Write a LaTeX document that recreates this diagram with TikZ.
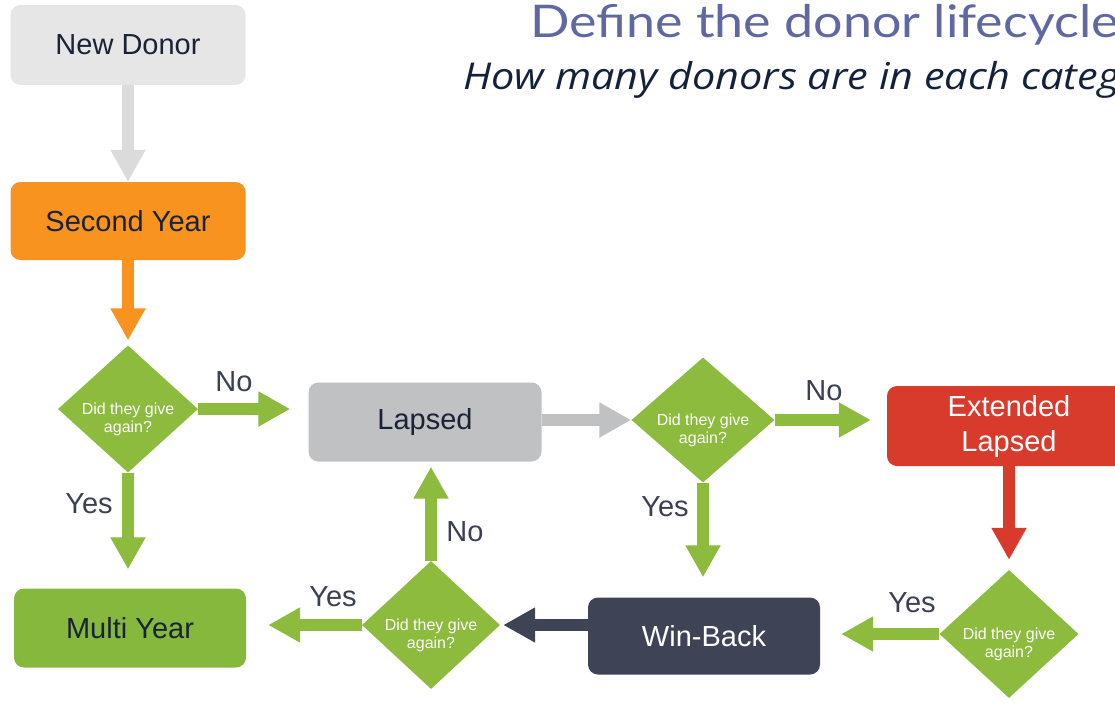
\documentclass[tikz,border=0pt]{standalone}
\usepackage{fontspec}
\usepackage{graphicx}
\setmainfont{Liberation Sans}
\newfontfamily\headfont{Lato}
\newfontfamily\subfont{Open Sans}
\usetikzlibrary{shapes.geometric,arrows.meta}

\definecolor{newgray}{HTML}{E6E6E6}
\definecolor{secorange}{HTML}{F7931E}
\definecolor{askgreen}{HTML}{8CBB3E}
\definecolor{multigreen}{HTML}{86B83E}
\definecolor{lapsegray}{HTML}{BFC1C3}
\definecolor{extred}{HTML}{D83B2B}
\definecolor{winnavy}{HTML}{3F4356}
\definecolor{boxtext}{HTML}{1A2336}
\definecolor{lbltext}{HTML}{3A3F52}
\definecolor{titleblue}{HTML}{6068A2}
\definecolor{subnavy}{HTML}{13223A}

\tikzset{
  stage/.style={rectangle, rounded corners=10pt, inner sep=0pt, align=center,
    minimum width=233pt, minimum height=79pt, text=boxtext,
    font=\fontsize{29}{35}\selectfont},
  ask/.style={diamond, fill=askgreen, inner sep=0pt,
    minimum width=140pt, minimum height=127pt},
  asktext/.style={text=white, align=center, inner sep=0pt, yshift=-10pt,
    font=\fontsize{16}{18}\selectfont},
  flow/.style={line width=12pt, -{Triangle[width=33pt,length=32pt]}},
  lbl/.style={text=lbltext, inner sep=0pt, font=\fontsize{29}{30}\selectfont},
}

\begin{document}
\begin{tikzpicture}[x=1pt, y=-1pt]
  \useasboundingbox (0,0) rectangle (1115,702);
  \clip (0,0) rectangle (1115,702);

  % heading
  \node[anchor=base west, inner sep=0pt, text=titleblue,
    font=\headfont\fontsize{45}{50}\selectfont] (title) at (530,37)
    {\scalebox{1.155}[1]{Define the donor lifecycle}};
  \node[anchor=base west, inner sep=0pt, text=subnavy,
    font=\subfont\itshape\fontsize{37}{40}\selectfont] (subtitle) at (463,89)
    {\scalebox{1.12}[1]{How many donors are in each category?}};

  % stages
  \node[stage, fill=newgray, minimum width=235pt, minimum height=80pt] (newdonor) at (128,45) {New Donor};
  \node[stage, fill=secorange, minimum width=235pt, minimum height=78pt] (second) at (128,221) {Second Year};
  \node[stage, fill=lapsegray] (lapsed) at (425,422) {Lapsed};
  \node[stage, fill=extred, text=white, minimum width=244pt, minimum height=80pt] (extlapsed) at (1009,426) {Extended\\Lapsed};
  \node[stage, fill=winnavy, text=white, minimum width=232pt, minimum height=77pt] (winback) at (704,636) {Win-Back};
  \node[stage, fill=multigreen, minimum width=232pt] (multiyear) at (130,628) {Multi Year};

  % questions
  \node[ask, label={[asktext]center:Did they give\\again?}] (q1) at (128,409) {};
  \node[ask, minimum width=143pt, minimum height=125pt,
    label={[asktext]center:Did they give\\again?}] (q2) at (703,420) {};
  \node[ask, minimum width=139pt, minimum height=128pt,
    label={[asktext]center:Did they give\\again?}] (q3) at (1009,634) {};
  \node[ask, minimum width=138pt, minimum height=128pt,
    label={[asktext]center:Did they give\\again?}] (q4) at (431,625) {};

  % arrows
  \draw[flow, newgray!95!black] (newdonor) -- (second);
  \draw[flow, secorange, shorten >=5pt] (second) -- (q1);
  \draw[flow, askgreen, shorten >=18pt] (q1.east) -- (q1 -| lapsed.west);
  \draw[flow, askgreen, shorten >=19pt] (q1.south) -- (q1 |- multiyear.north);
  \draw[flow, lapsegray] (lapsed.east |- q2) -- (q2.west);
  \draw[flow, askgreen, shorten >=16pt] (q2.east) -- (q2 -| extlapsed.west);
  \draw[flow, askgreen, shorten >=20pt] (q2.south) -- (q2 |- winback.north);
  \draw[flow, extred, shorten >=10pt] (extlapsed.south) -- (q3.north);
  \draw[flow, askgreen, shorten >=21pt] (q3.west) -- (q3 -| winback.east);
  \draw[flow, winnavy, shorten >=3pt] (winback.west |- q4) -- (q4.east);
  \draw[flow, askgreen, shorten >=22pt] (q4.west) -- (q4 -| multiyear.east);
  \draw[flow, askgreen, shorten >=5pt] (q4.north) -- (q4 |- lapsed.south);

  % answers
  \node[lbl] (no1) at (234,382) {No};
  \node[lbl] (yes1) at (89,504) {Yes};
  \node[lbl] (no2) at (824,391) {No};
  \node[lbl] (yes2) at (665,507) {Yes};
  \node[lbl] (yes3) at (912,603) {Yes};
  \node[lbl] (yes4) at (333,597) {Yes};
  \node[lbl] (no4) at (465,532) {No};
\end{tikzpicture}
\end{document}
